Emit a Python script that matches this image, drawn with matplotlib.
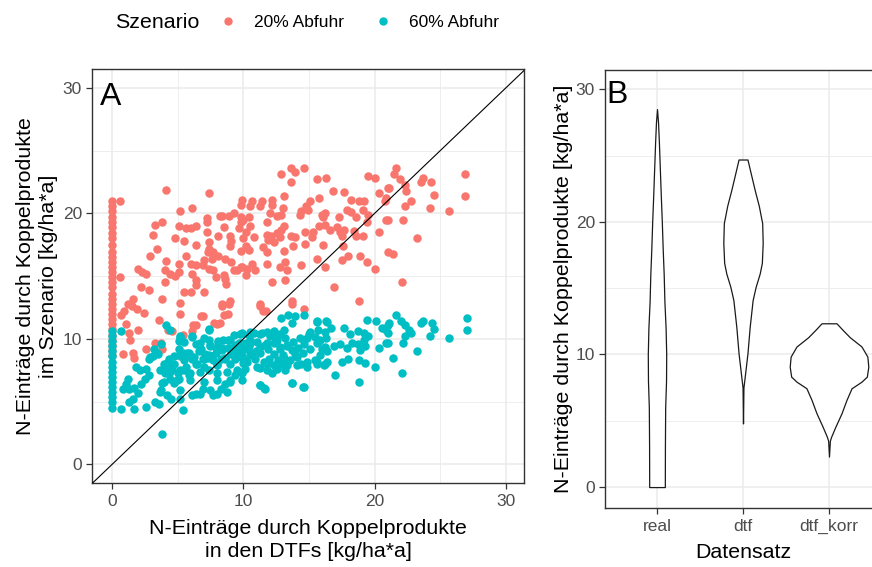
import matplotlib
matplotlib.use("Agg")
import matplotlib.pyplot as plt
from matplotlib.lines import Line2D
from matplotlib.ticker import MultipleLocator

plt.rcParams['font.family'] = ['Liberation Sans', 'DejaVu Sans']

# ---------------- data ----------------
# Scenario 20% Abfuhr (red)
red_x0_y = [21.0, 20.6, 20.2, 19.7, 19.3, 18.9, 18.4, 18.0, 17.5, 16.9, 16.5, 16.1, 15.7, 15.3,
            14.9, 14.5, 14.1, 13.6, 13.2, 12.8, 12.4, 12.0, 11.6, 11.2, 10.8, 10.3, 9.9, 9.5, 9.1, 8.7]
red_pts = [
    (0.6, 21.0), (4.1, 21.9), (7.4, 21.6), (5.2, 20.2), (6.1, 20.4), (9.8, 20.7), (9.9, 21.1), (9.3, 20.0),
    (3.3, 19.1), (3.8, 19.3), (3.1, 18.3), (5.1, 19.0), (5.6, 18.8), (6.0, 18.8), (6.4, 19.0), (7.2, 19.6),
    (7.2, 19.3), (7.2, 18.5), (8.2, 19.8), (8.4, 19.8), (8.9, 19.8), (8.5, 18.9), (8.1, 18.2), (9.0, 18.2),
    (9.1, 17.8), (9.0, 17.4), (9.8, 19.3), (9.7, 18.8), (4.8, 18.0), (5.5, 17.8), (6.4, 17.5), (7.4, 17.7),
    (7.4, 17.2), (7.3, 16.9), (7.7, 16.9), (7.6, 16.4), (8.1, 16.6), (8.6, 16.4), (9.1, 16.1), (9.8, 15.7),
    (3.4, 17.2), (2.9, 16.6), (4.1, 16.2), (5.1, 16.0), (5.6, 16.6), (6.0, 16.0), (6.4, 15.9), (6.9, 15.9),
    (7.0, 16.3), (2.0, 15.6), (2.3, 15.3), (2.6, 15.2), (4.0, 15.5), (4.4, 15.2), (4.8, 15.0), (5.1, 15.3),
    (6.1, 15.2), (6.4, 14.7), (6.4, 14.3), (7.4, 15.6), (7.7, 15.5), (7.9, 14.9), (8.5, 15.1), (8.6, 14.8),
    (8.7, 14.4), (9.3, 15.5), (9.5, 15.5), (9.9, 15.7), (0.6, 14.9), (4.0, 14.5), (2.2, 14.1), (2.8, 13.9),
    (5.5, 13.7), (6.0, 13.7), (7.0, 13.7), (3.8, 13.2), (5.2, 12.9), (1.6, 13.2), (1.2, 12.8), (8.4, 12.8),
    (9.0, 13.0), (1.5, 12.6), (1.9, 12.4), (2.4, 12.1), (0.9, 12.2), (0.7, 11.9), (5.2, 12.0), (6.9, 11.8),
    (6.4, 11.1), (6.1, 10.6), (5.4, 10.3), (7.8, 11.3), (8.2, 11.3), (8.4, 12.6), (8.8, 12.0), (3.6, 11.5),
    (1.1, 11.2), (1.3, 10.5), (1.4, 9.9), (2.0, 10.7), (3.3, 9.7), (3.7, 9.7), (2.6, 9.2), (1.6, 8.9),
    (1.7, 8.5), (0.8, 8.8), (5.2, 8.6), (4.6, 10.6), (4.3, 10.7), (6.2, 11.1), (6.8, 11.8), (8.0, 11.2),
    (8.5, 11.9), (8.9, 12.8), (11.3, 12.6), (11.7, 12.2), (13.7, 12.8), (3.8, 9.2),
    (13.6, 23.6), (13.9, 23.3), (14.6, 23.6), (12.9, 23.1), (13.6, 22.5), (15.6, 22.7), (16.3, 22.8),
    (19.5, 23.0), (20.0, 22.8), (16.8, 21.8), (17.7, 21.7), (18.2, 21.1), (18.8, 21.0), (19.2, 21.0),
    (20.3, 21.6), (21.0, 22.0), (20.8, 21.0), (15.8, 21.2), (15.1, 21.0), (14.8, 20.6), (14.4, 20.2),
    (14.3, 19.9), (14.9, 20.3), (13.1, 21.4), (13.0, 20.4), (12.9, 19.9), (12.2, 21.1), (12.2, 20.7),
    (12.0, 20.0), (12.6, 19.8), (11.4, 21.0), (11.3, 20.6), (10.7, 21.0), (10.5, 20.6), (9.8, 19.7),
    (10.0, 19.5), (10.4, 19.7), (11.8, 19.3), (13.1, 19.0), (12.9, 18.7), (12.6, 18.4), (12.1, 18.2),
    (11.8, 18.3), (11.9, 17.9), (12.3, 17.7), (12.8, 18.1), (10.5, 19.0), (10.2, 18.5), (10.8, 18.1),
    (10.0, 18.0), (10.2, 17.4), (10.4, 17.1), (13.6, 18.2), (13.9, 18.1), (14.7, 18.5), (15.3, 18.5),
    (15.2, 18.1), (13.8, 17.4), (13.1, 17.0), (14.7, 17.6), (16.1, 17.5), (15.8, 19.0), (16.2, 19.1),
    (16.6, 18.7), (17.1, 18.9), (17.4, 18.5), (17.7, 18.7), (16.0, 19.9), (16.2, 20.0), (16.1, 19.7),
    (17.3, 19.7), (17.9, 20.3), (18.2, 20.1), (18.6, 19.7), (19.1, 20.3), (19.5, 19.9), (19.4, 19.3),
    (18.4, 18.6), (18.6, 18.2), (19.1, 18.2), (17.5, 18.2), (17.6, 17.4), (20.3, 18.5), (20.9, 19.5),
    (11.5, 17.3), (11.8, 16.9), (9.8, 17.0), (10.7, 16.0), (10.3, 15.6), (10.2, 15.1), (11.8, 16.0),
    (12.8, 15.7), (13.2, 16.1), (13.3, 15.5), (14.4, 15.9), (15.6, 16.4), (16.2, 15.7), (17.5, 16.3),
    (18.0, 16.6), (18.9, 16.6), (19.4, 16.1), (20.0, 15.6), (12.2, 14.5), (13.2, 14.7), (16.9, 14.1),
    (13.7, 13.0), (11.3, 12.8), (18.8, 13.0), (21.0, 16.9), (11.5, 12.2), (14.6, 12.4), (10.9, 15.5),
    (21.6, 23.6), (21.5, 23.1), (21.9, 22.7), (22.3, 22.3), (22.4, 21.8), (23.5, 22.5), (23.7, 22.8),
    (24.3, 22.5), (21.1, 22.0), (20.9, 21.2), (22.3, 20.6), (22.8, 21.0), (24.5, 21.5), (24.2, 20.4),
    (25.7, 20.2), (26.9, 23.1), (26.9, 21.4), (21.0, 19.5), (22.2, 19.5), (23.2, 18.0), (21.4, 16.8),
    (22.1, 14.5),
]
red_x = [0.0] * len(red_x0_y) + [p[0] for p in red_pts]
red_y = red_x0_y + [p[1] for p in red_pts]

# Scenario 60% Abfuhr (cyan)
cyan_x0_y = [10.6, 10.2, 9.8, 9.4, 9.0, 8.6, 8.2, 7.8, 7.4, 7.0, 6.6, 6.2, 5.8, 5.4, 5.0, 4.5]
cyan_pts = [
    (5.4, 8.9), (5.5, 8.5), (5.7, 8.9), (6.1, 8.4), (6.4, 8.0), (6.9, 8.4), (7.3, 8.5), (7.6, 8.6),
    (7.9, 8.9), (8.3, 8.4), (8.6, 8.5), (9.1, 8.8), (9.4, 8.4), (9.8, 8.6), (10.0, 8.1), (5.6, 7.8),
    (5.5, 7.5), (5.9, 7.1), (5.1, 6.8), (5.0, 7.3), (4.6, 7.6), (4.1, 7.7), (4.0, 7.3), (4.4, 6.8),
    (4.7, 6.5), (1.8, 7.8), (2.1, 7.5), (2.6, 7.6), (2.8, 7.1), (2.5, 6.8), (2.2, 6.4), (1.2, 6.8),
    (1.1, 6.4), (0.8, 6.0), (1.3, 6.0), (1.7, 6.1), (2.0, 5.7), (1.6, 5.2), (1.3, 5.0), (0.7, 4.4),
    (3.8, 6.5), (3.7, 5.9), (4.2, 5.5), (4.5, 5.2), (3.6, 4.8), (3.3, 5.0), (2.6, 4.6), (1.7, 4.4),
    (6.1, 5.5), (6.4, 5.6), (6.9, 6.0), (7.5, 5.9), (8.0, 5.6), (8.3, 6.0), (8.6, 6.4), (9.0, 6.7),
    (9.4, 7.1), (9.9, 7.3), (5.2, 5.2), (5.4, 4.3), (3.8, 2.4), (0.7, 10.6), (4.1, 11.1), (4.4, 10.7),
    (7.4, 10.8), (5.2, 10.2), (5.1, 9.8), (6.1, 10.2), (6.4, 9.6), (6.6, 9.0), (7.4, 9.9), (7.5, 9.4),
    (8.1, 9.8), (8.8, 9.9), (9.3, 10.3), (9.9, 10.5), (3.2, 9.2), (3.1, 8.6), (2.8, 8.4), (3.5, 8.8),
    (4.2, 8.1), (4.7, 8.6), (5.1, 9.2), (3.7, 9.6), (9.7, 9.7), (10.0, 9.4),
    (6.8, 9.2), (7.1, 8.8), (7.9, 9.3), (8.4, 9.1), (8.9, 9.3), (9.2, 9.0), (8.0, 8.0), (7.0, 7.8),
    # dense band read from close-up
    (7.35, 10.75), (9.76, 10.4), (10.52, 10.57), (11.29, 10.43), (11.79, 10.57), (12.43, 10.17),
    (12.81, 10.43), (5.2, 10.17), (5.45, 9.77), (6.08, 10.17), (6.72, 9.64), (6.97, 10.04), (7.48, 9.5),
    (8.11, 9.77), (8.49, 9.9), (9.0, 9.9), (9.38, 9.5), (8.37, 9.24), (8.87, 9.24), (9.64, 9.1),
    (10.14, 9.37), (10.52, 9.64), (11.03, 9.77), (11.29, 9.37), (11.67, 9.5), (12.3, 9.64),
    (12.81, 9.37), (13.32, 9.5), (13.82, 9.77), (14.2, 9.24), (14.84, 10.04), (15.09, 10.57),
    (15.47, 10.17), (15.85, 9.9), (16.24, 10.57), (16.24, 9.37), (2.91, 8.57), (3.42, 8.84), (3.93, 8.04),
    (4.31, 8.44), (4.69, 8.04), (5.07, 8.71), (5.45, 8.31), (5.83, 8.84), (6.21, 8.57), (6.46, 8.04),
    (6.97, 8.44), (7.35, 8.71), (7.73, 8.31), (7.99, 7.91), (8.62, 8.44), (9.0, 8.04), (9.51, 8.57),
    (10.02, 8.31), (10.52, 8.71), (10.9, 8.44), (11.29, 8.84), (11.54, 8.18), (11.92, 8.44), (12.3, 7.91),
    (12.68, 8.31), (13.06, 8.71), (13.57, 8.31), (14.08, 8.57), (14.58, 8.84), (14.84, 8.18),
    (15.47, 8.31), (15.85, 8.71), (16.36, 8.18), (3.67, 7.51), (4.43, 7.38), (5.2, 7.51), (5.96, 7.25),
    (6.72, 7.38), (7.35, 7.51), (7.99, 7.25), (8.75, 7.38), (9.51, 7.51), (10.14, 7.64), (11.03, 7.78),
    (11.79, 7.51), (12.55, 7.64), (13.32, 7.91), (14.08, 7.91), (14.84, 7.78), (15.6, 8.04), (16.11, 7.91),
    (3.93, 6.58), (4.94, 6.72), (5.96, 6.72), (6.97, 6.58), (7.99, 6.72), (9.0, 6.58), (9.89, 6.72),
    (11.29, 6.32), (11.67, 6.05), (13.7, 6.45), (14.58, 6.18), (3.67, 5.79), (5.2, 5.92), (6.72, 5.65),
    (7.73, 5.52), (8.75, 5.79), (15.6, 11.36), (16.36, 11.36),
    (12.9, 11.7), (13.4, 11.9), (13.9, 11.8), (14.6, 11.9), (13.7, 11.3), (15.6, 11.4), (16.3, 11.4),
    (19.4, 11.5), (20.1, 11.4), (21.0, 11.1), (11.4, 10.5), (12.3, 10.6), (13.1, 10.7), (13.2, 10.1),
    (12.6, 9.9), (12.0, 10.2), (14.3, 10.1), (15.0, 10.4), (15.7, 10.7), (16.3, 10.1), (15.8, 9.8),
    (16.7, 10.9), (17.7, 10.9), (18.1, 10.4), (18.7, 10.6), (19.2, 10.5), (19.5, 10.2), (20.6, 10.9),
    (21.0, 10.5), (9.8, 9.7), (10.1, 9.2), (10.4, 9.4), (10.7, 8.9), (11.0, 9.0), (9.9, 8.6),
    (10.3, 8.2), (11.8, 9.7), (11.9, 9.2), (12.3, 8.8), (12.8, 9.2), (13.3, 9.4), (13.7, 9.1),
    (13.9, 8.8), (14.6, 9.6), (15.1, 9.2), (15.6, 9.7), (16.0, 9.2), (16.4, 9.0), (16.9, 9.4),
    (17.4, 9.6), (17.9, 9.3), (18.3, 9.7), (18.7, 9.6), (18.9, 9.1), (19.3, 9.4), (19.2, 9.9),
    (13.1, 8.5), (12.9, 8.0), (13.2, 7.5), (12.2, 7.3), (11.8, 8.0), (11.3, 7.7), (14.4, 8.0),
    (15.6, 8.2), (16.2, 8.0), (17.5, 8.2), (18.0, 8.4), (18.8, 8.3), (19.3, 8.1), (20.0, 7.8),
    (20.3, 9.3), (17.0, 7.1), (13.7, 6.5), (14.6, 6.2), (11.3, 6.3), (11.6, 6.1), (18.8, 6.6),
    (20.9, 9.7), (10.2, 9.7), (10.5, 9.9), (10.8, 10.5), (10.4, 10.3),
    (21.6, 11.9), (21.1, 11.3), (20.9, 10.7), (22.0, 11.4), (22.3, 11.1), (22.6, 10.7), (22.8, 10.5),
    (22.3, 10.2), (23.5, 11.3), (23.7, 11.4), (24.4, 11.3), (24.5, 10.8), (24.2, 10.2), (25.7, 10.1),
    (27.0, 11.7), (27.0, 10.7), (21.0, 9.7), (22.2, 9.7), (23.2, 9.0), (21.4, 8.5), (22.1, 7.3),
]
cyan_x = [0.0] * len(cyan_x0_y) + [p[0] for p in cyan_pts]
cyan_y = cyan_x0_y + [p[1] for p in cyan_pts]

series_labels = ['20% Abfuhr', '60% Abfuhr']
series_colors = ['#F8766D', '#00BFC4']

# Violin outlines (panel B): y levels and half widths (in category units)
violin_cats = ['real', 'dtf', 'dtf_korr']
real_y = [0.0, 3.0, 6.0, 8.0, 10.0, 12.0, 14.0, 16.0, 18.0, 20.0, 22.0, 24.0, 26.0, 27.5, 28.5]
real_w = [0.091, 0.092, 0.095, 0.105, 0.107, 0.100, 0.086, 0.078, 0.066, 0.056, 0.044, 0.033, 0.022, 0.012, 0.0]
dtf_y = [4.8, 7.5, 8.6, 10.1, 12.1, 14.1, 15.1, 16.1, 16.9, 18.4, 19.9, 21.2, 22.4, 23.9, 24.7]
dtf_w = [0.0, 0.005, 0.025, 0.052, 0.078, 0.112, 0.147, 0.194, 0.219, 0.229, 0.223, 0.184, 0.136, 0.081, 0.052]
korr_y = [2.3, 3.5, 3.8, 4.55, 5.56, 6.57, 7.45, 7.95, 8.33, 9.08, 9.84, 10.6, 11.3, 11.85, 12.35]
korr_w = [0.0, 0.01, 0.025, 0.074, 0.145, 0.203, 0.262, 0.378, 0.44, 0.457, 0.446, 0.378, 0.242, 0.159, 0.087]
violin_profiles = [(real_y, real_w), (dtf_y, dtf_w), (korr_y, korr_w)]

# ---------------- styling helpers ----------------
BORDER = '#333333'
GRID = '#EBEBEB'
TICKTXT = '#4D4D4D'


def style_axes(ax):
    for s in ax.spines.values():
        s.set_color(BORDER)
        s.set_linewidth(1.0)
    ax.grid(which='major', color=GRID, linewidth=1.1, zorder=0)
    ax.grid(which='minor', color=GRID, linewidth=0.6, zorder=0)
    ax.set_axisbelow(True)
    ax.tick_params(which='major', length=4, width=0.9, color=BORDER, labelcolor=TICKTXT,
                   labelsize=12.5, pad=3.5)
    ax.tick_params(which='minor', length=0)


fig = plt.figure(figsize=(8.72, 5.67), dpi=100)

# ---------------- Panel A ----------------
axA = fig.add_axes([0.10585, 0.14762, 0.49541, 0.73069])
style_axes(axA)
axA.set_xlim(-1.5, 31.4)
axA.set_ylim(-1.5, 31.5)
axA.xaxis.set_major_locator(MultipleLocator(10))
axA.xaxis.set_minor_locator(MultipleLocator(5))
axA.yaxis.set_major_locator(MultipleLocator(10))
axA.yaxis.set_minor_locator(MultipleLocator(5))

axA.scatter(red_x, red_y, s=37, color=series_colors[0], linewidths=0, zorder=3)
axA.scatter(cyan_x, cyan_y, s=37, color=series_colors[1], linewidths=0, zorder=3)
axA.axline((0, 0), slope=1, color='black', linewidth=0.8, zorder=4)
axA.text(-0.1, 28.6, 'A', fontsize=23, ha='center', va='baseline', zorder=5)

axA.set_xlabel('N-Einträge durch Koppelprodukte\nin den DTFs [kg/ha*a]', fontsize=15.4,
               linespacing=1.25, labelpad=7.5)
axA.set_ylabel('N-Einträge durch Koppelprodukte\nim Szenario [kg/ha*a]', fontsize=15.4,
               linespacing=1.25, labelpad=3.6)

# ---------------- Panel B ----------------
axB = fig.add_axes([0.69427, 0.10353, 0.31560, 0.77302])
style_axes(axB)
axB.set_xlim(0.4, 3.6)
axB.set_ylim(-1.6, 31.45)
axB.yaxis.set_major_locator(MultipleLocator(10))
axB.yaxis.set_minor_locator(MultipleLocator(5))
axB.set_xticks([1, 2, 3])
axB.set_xticklabels(violin_cats)

for i, (vy, vw) in enumerate(violin_profiles):
    c = i + 1
    axB.fill_betweenx(vy, [c - w for w in vw], [c + w for w in vw],
                      facecolor='white', edgecolor='#1A1A1A', linewidth=0.9, zorder=3)
axB.text(0.54, 28.96, 'B', fontsize=23, ha='center', va='baseline', zorder=5)
axB.set_xlabel('Datensatz', fontsize=15.4, labelpad=6.6)
axB.set_ylabel('N-Einträge durch Koppelprodukte [kg/ha*a]', fontsize=15.4, labelpad=2)

# ---------------- Legend ----------------
fig.text(115 / 872, 1 - 22 / 567, 'Szenario', fontsize=15.4, ha='left', va='center')
handles = [Line2D([], [], marker='o', linestyle='none', color=series_colors[0], markersize=5),
           Line2D([], [], marker='o', linestyle='none', color=series_colors[1], markersize=5)]
fig.legend(handles, series_labels, loc='center left', bbox_to_anchor=(218 / 872, 1 - 22 / 567),
           ncol=2, frameon=False, fontsize=12.5, handletextpad=0.9, columnspacing=1.6,
           handlelength=1.2, borderaxespad=0, borderpad=0)

fig.savefig('out.png', dpi=100)
